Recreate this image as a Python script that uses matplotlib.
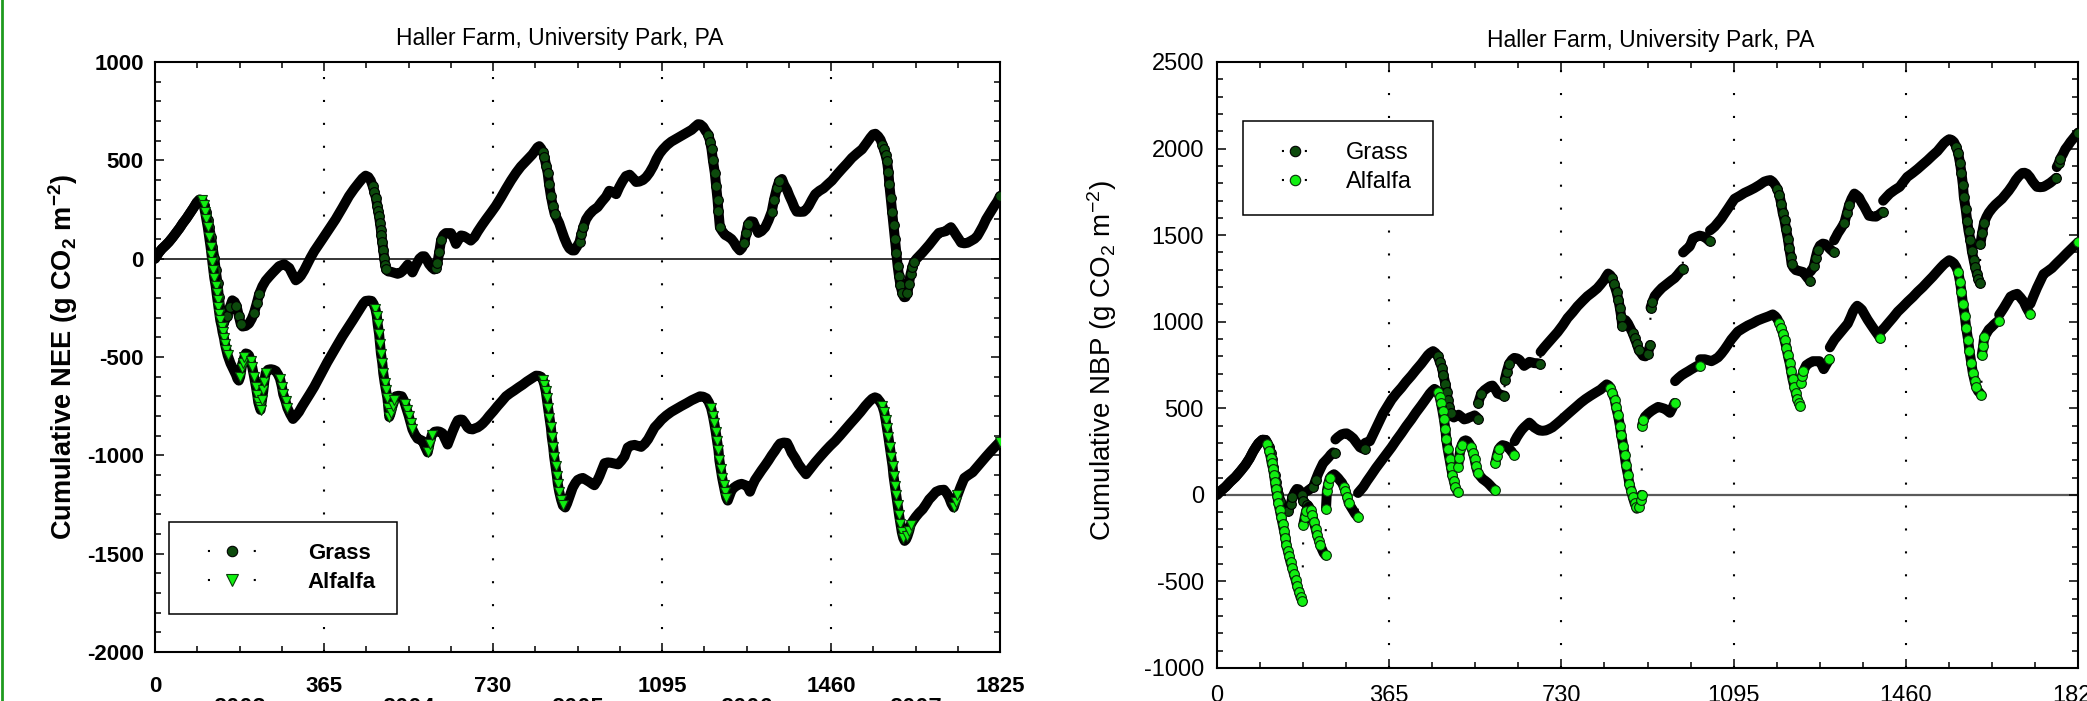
import numpy as np
import matplotlib
matplotlib.use("Agg")
import matplotlib.pyplot as plt
from matplotlib.lines import Line2D
from matplotlib.ticker import FixedLocator, MultipleLocator, FixedFormatter

plt.rcParams['font.family'] = ['Liberation Sans', 'DejaVu Sans']
plt.rcParams['mathtext.fontset'] = 'custom'
plt.rcParams['mathtext.rm'] = 'Liberation Sans'
plt.rcParams['mathtext.it'] = 'Liberation Sans:italic'
plt.rcParams['mathtext.bf'] = 'Liberation Sans:bold'
plt.rcParams['axes.unicode_minus'] = False

# ---------------- data ----------------
title = "Haller Farm, University Park, PA"
series_labels = ["Grass", "Alfalfa"]
x_ticks = [0, 365, 730, 1095, 1460, 1825]
x_ticklabels = ["0", "365", "730", "1095", "1460", "1825"]
years = ["2003", "2004", "2005", "2006", "2007"]
year_mid_days = [182.5, 547.5, 912.5, 1277.5, 1642.5]
nee_yticks = [-2000, -1500, -1000, -500, 0, 500, 1000]
nee_yticklabels = ["-2000", "-1500", "-1000", "-500", "0", "500", "1000"]
nbp_yticks = [-1000, -500, 0, 500, 1000, 1500, 2000, 2500]
nbp_yticklabels = ["-1000", "-500", "0", "500", "1000", "1500", "2000", "2500"]

# Cumulative NEE, grass (day, g CO2 m-2)
nee_grass = [(0,0),(8,30),(15,50),(23,68),(30,85),(38,108),(45,130),(53,155),(60,180),(68,205),(75,230),(83,258),(90,285),(96,300),(102,298),
 (106,272),(110,239),(114,195),(117,160),(121,110),(124,61),(128,5),(131,-57),(135,-125),(138,-196),(141,-260),(143,-300),(146,-325),(150,-320),
 (156,-290),(162,-245),(167,-212),(172,-220),(176,-240),(181,-290),(185,-330),(189,-345),(196,-342),(203,-330),(209,-305),(214,-275),(220,-225),
 (225,-180),(232,-140),(239,-112),(247,-90),(254,-72),(261,-55),(268,-38),(279,-28),(290,-47),(297,-80),(304,-110),(310,-100),(315,-87),(322,-60),
 (329,-28),(336,5),(344,38),(353,70),(362,101),(376,150),(390,200),(405,260),(419,318),(430,355),(441,388),(448,408),(455,422),(461,415),(466,397),
 (470,370),(474,338),(477,310),(480,270),(482,240),(484,215),(486,180),(488,145),(489,121),(491,85),(493,45),(495,5),(497,-30),(499,-55),(504,-65),
 (510,-67),(517,-72),(524,-77),(530,-72),(535,-62),(541,-45),(546,-30),(551,-50),(556,-70),(563,-35),(571,0),(577,12),(582,12),(587,-5),(592,-28),
 (598,-45),(603,-55),(607,-45),(610,-20),(614,35),(618,95),(623,120),(628,130),(639,130),(645,105),(650,75),(655,95),(661,118),(667,115),(672,108),
 (682,92),(690,110),(697,138),(706,170),(715,200),(726,235),(736,268),(747,310),(758,355),(769,398),(780,437),(790,468),(801,495),(808,512),(815,530),
 (821,550),(826,566),(830,572),(834,560),(838,540),(841,516),(845,470),(848,437),(851,380),(855,318),(859,270),(863,229),(868,205),(873,180),(878,145),
 (884,105),(890,72),(895,52),(901,42),(906,42),(911,60),(917,85),(921,125),(925,160),(931,200),(938,225),(946,245),(956,262),(965,290),(974,315),
 (981,345),(988,340),(996,328),(1003,365),(1010,395),(1017,420),(1025,427),(1032,410),(1039,390),(1046,392),(1054,400),(1061,415),(1068,437),
 (1076,470),(1083,506),(1090,535),(1097,556),(1106,578),(1115,595),(1126,610),(1137,625),(1148,640),(1159,655),(1166,670),(1173,684),(1178,682),
 (1184,670),(1189,650),(1195,630),(1199,595),(1202,556),(1205,500),(1209,437),(1212,370),(1215,299),(1217,240),(1220,160),(1225,140),(1231,121),
 (1238,112),(1245,100),(1250,85),(1256,61),(1263,42),(1268,55),(1273,81),(1277,130),(1281,175),(1286,190),(1292,188),(1297,160),(1303,131),(1310,140),
 (1318,160),(1325,195),(1332,239),(1337,300),(1343,358),(1348,395),(1354,405),(1359,375),(1365,350),(1370,320),(1376,289),(1381,260),(1386,239),
 (1394,238),(1401,239),(1407,252),(1412,269),(1419,300),(1426,328),(1435,345),(1444,358),(1453,378),(1462,397),(1473,428),(1484,457),(1495,485),
 (1505,512),(1516,535),(1527,556),(1536,585),(1545,615),(1551,632),(1556,635),(1562,622),(1567,605),(1571,580),(1574,556),(1578,525),(1581,496),
 (1584,440),(1586,378),(1589,310),(1592,239),(1595,170),(1598,101),(1601,30),(1604,-38),(1607,-90),(1610,-136),(1614,-175),(1618,-196),(1621,-195),
 (1625,-176),(1628,-130),(1632,-77),(1636,-40),(1639,-18),(1645,0),(1650,12),(1658,32),(1665,51),(1672,70),(1679,91),(1686,112),(1693,131),(1700,135),
 (1708,140),(1714,152),(1719,160),(1725,140),(1730,121),(1736,100),(1741,81),(1748,78),(1755,81),(1762,90),(1770,101),(1776,115),(1780,131),(1788,165),
 (1795,200),(1804,235),(1813,269),(1819,290),(1825,318)]

# Cumulative NEE, alfalfa
nee_alfalfa = [(0,0),(8,30),(15,50),(23,68),(30,85),(38,108),(45,130),(53,155),(60,180),(68,205),(75,230),(83,258),(90,285),(96,300),(102,298),
 (105,275),(108,239),(111,200),(114,160),(117,110),(120,61),(122,20),(124,-18),(126,-58),(128,-97),(131,-137),(133,-176),(135,-210),(137,-245),
 (139,-280),(141,-314),(144,-345),(146,-374),(149,-404),(151,-433),(154,-462),(157,-492),(160,-512),(163,-532),(167,-552),(171,-571),(175,-591),
 (178,-611),(181,-620),(184,-600),(187,-555),(189,-532),(193,-500),(196,-482),(200,-485),(203,-492),(207,-520),(210,-552),(214,-600),(218,-651),
 (221,-695),(223,-730),(226,-755),(228,-769),(231,-720),(234,-670),(236,-625),(239,-581),(244,-565),(250,-562),(256,-565),(261,-571),(266,-590),
 (270,-611),(274,-650),(277,-690),(282,-725),(286,-759),(292,-790),(298,-815),(304,-800),(311,-779),(318,-750),(326,-720),(335,-686),(344,-651),
 (353,-611),(362,-571),(372,-527),(383,-482),(394,-438),(405,-394),(416,-354),(427,-314),(436,-280),(445,-245),(450,-228),(455,-215),(462,-213),
 (468,-215),(472,-230),(476,-255),(479,-290),(481,-334),(484,-383),(486,-433),(488,-483),(491,-532),(493,-582),(496,-631),(499,-670),(502,-710),
 (504,-760),(506,-805),(509,-785),(513,-749),(517,-720),(520,-700),(526,-697),(533,-700),(537,-718),(540,-739),(544,-769),(548,-799),(552,-834),
 (556,-868),(561,-893),(567,-915),(572,-920),(578,-927),(583,-955),(589,-985),(593,-940),(598,-895),(604,-880),(610,-878),(615,-880),(621,-888),
 (626,-915),(632,-945),(637,-915),(643,-878),(649,-845),(654,-822),(659,-818),(664,-819),(670,-838),(675,-858),(680,-866),(686,-868),(692,-862),
 (697,-858),(703,-848),(708,-838),(715,-820),(722,-799),(731,-775),(740,-749),(749,-725),(758,-700),(767,-684),(776,-670),(785,-655),(794,-641),
 (803,-625),(812,-611),(818,-602),(823,-595),(829,-596),(834,-601),(838,-618),(841,-641),(844,-675),(846,-710),(849,-760),(852,-809),(855,-858),
 (857,-908),(860,-957),(862,-1006),(865,-1055),(868,-1105),(870,-1145),(873,-1185),(877,-1225),(881,-1255),(886,-1265),(890,-1245),(894,-1218),
 (898,-1190),(902,-1165),(908,-1140),(913,-1125),(919,-1118),(924,-1115),(931,-1125),(938,-1135),(944,-1145),(949,-1152),(955,-1130),(960,-1105),
 (966,-1070),(971,-1040),(978,-1036),(985,-1038),(992,-1042),(1000,-1046),(1007,-1028),(1014,-1006),(1021,-960),(1028,-950),(1036,-947),(1043,-952),
 (1050,-957),(1058,-940),(1065,-918),(1072,-888),(1079,-858),(1087,-838),(1094,-819),(1104,-798),(1115,-779),(1126,-764),(1137,-749),(1148,-735),
 (1159,-720),(1168,-710),(1177,-700),(1184,-702),(1191,-710),(1196,-730),(1201,-759),(1205,-800),(1208,-838),(1211,-880),(1214,-927),(1217,-975),
 (1219,-1026),(1222,-1070),(1225,-1115),(1228,-1150),(1231,-1185),(1234,-1215),(1237,-1230),(1241,-1205),(1245,-1180),(1250,-1165),(1256,-1155),
 (1262,-1148),(1267,-1145),(1273,-1150),(1278,-1155),(1282,-1170),(1285,-1185),(1290,-1155),(1296,-1125),(1303,-1100),(1310,-1076),(1318,-1050),
 (1325,-1026),(1332,-1000),(1339,-977),(1345,-955),(1350,-940),(1358,-935),(1365,-937),(1370,-960),(1375,-987),(1383,-1016),(1390,-1046),(1398,-1072),
 (1406,-1096),(1416,-1066),(1426,-1036),(1437,-1006),(1448,-977),(1458,-952),(1469,-927),(1480,-898),(1491,-868),(1502,-838),(1513,-809),(1524,-779),
 (1534,-749),(1542,-728),(1549,-712),(1555,-705),(1560,-710),(1566,-728),(1571,-749),(1575,-780),(1578,-819),(1581,-862),(1584,-908),(1587,-957),
 (1590,-1006),(1593,-1055),(1595,-1105),(1598,-1155),(1601,-1204),(1604,-1254),(1607,-1303),(1610,-1348),(1613,-1392),(1616,-1420),(1619,-1435),
 (1622,-1428),(1625,-1412),(1629,-1383),(1632,-1353),(1637,-1333),(1643,-1313),(1650,-1293),(1658,-1274),(1665,-1250),(1672,-1224),(1680,-1204),
 (1687,-1185),(1695,-1177),(1704,-1175),(1710,-1193),(1715,-1214),(1720,-1245),(1725,-1265),(1729,-1235),(1733,-1204),(1740,-1160),(1748,-1115),
 (1757,-1100),(1766,-1086),(1775,-1061),(1784,-1036),(1795,-1006),(1806,-977),(1816,-952),(1825,-930)]

# Cumulative NBP, grass: one list per continuous run (jumps at harvest / manure events)
nbp_grass = [
 [(0,0),(9,25),(18,46),(28,75),(39,103),(50,138),(60,172),(69,210),(77,252),(83,278),(88,298),(96,318),(103,317),(107,300),(111,275),(114,240),
  (116,206),(119,160),(122,115),(125,75),(127,34),(130,5),(134,-34),(138,-60),(143,-80),(147,-88),(151,-92),(156,-55),(160,-11),(165,18),(169,34),
  (173,32),(176,23),(180,0),(183,-34),(187,-48),(190,-57)],
 [(192,23),(198,35),(204,46),(209,85),(215,126),(220,155),(225,183),(231,200),(237,218),(241,232),(246,245),(250,241)],
 [(251,320),(256,333),(264,349),(270,354),(275,355),(282,342),(289,326),(296,300),(303,275),(308,268),(313,264)],
 [(314,300),(319,305),(324,310),(331,350),(338,390),(345,430),(352,470),(361,510),(370,550),(380,585),(391,619),(401,654),(412,688),(422,722),
  (433,757),(440,782),(447,807),(452,820),(458,830),(463,820),(468,803),(472,770),(477,734),(480,690),(484,642),(487,595),(489,550),(492,510),
  (495,470),(498,455),(502,447),(507,455),(512,463),(518,450),(524,436),(530,440),(535,447),(541,453),(546,459),(550,450),(553,440)],
 [(554,532),(560,585),(567,605),(574,619),(579,628),(584,631),(590,610),(595,585),(602,578),(609,573)],
 [(610,665),(614,710),(619,757),(625,780),(630,791),(636,788),(641,780),(646,762),(651,745),(657,756),(662,768),(667,765),(672,761),(679,760),(685,757)],
 [(686,826),(693,850),(700,872),(711,906),(722,940),(733,980),(743,1021),(754,1055),(764,1089),(775,1120),(785,1147),(796,1170),(806,1193),
  (813,1215),(820,1239),(825,1262),(829,1278),(834,1268),(838,1250),(842,1215),(847,1170),(851,1125),(854,1078),(857,1025),(859,975),(862,990),
  (866,1009),(871,990),(876,963),(881,935),(885,906),(890,870),(894,837),(899,818),(903,803),(908,800),(913,815),(918,865)],
 [(919,1081),(923,1115),(928,1149),(935,1172),(943,1195),(950,1210),(956,1223),(963,1238),(970,1252),(976,1270),(981,1287),(987,1305)],
 [(988,1400),(995,1418),(1002,1435),(1006,1460),(1009,1481),(1016,1490),(1023,1497),(1029,1493),(1034,1488),(1039,1477),(1044,1465)],
 [(1045,1527),(1050,1538),(1055,1550),(1062,1573),(1069,1596),(1076,1625),(1083,1653),(1090,1682),(1097,1710),(1108,1727),(1118,1744),(1129,1758),
  (1139,1772),(1150,1790),(1160,1809),(1167,1815),(1173,1818),(1178,1808),(1183,1790),(1188,1765),(1192,1733),(1196,1680),(1199,1630),(1203,1585),
  (1206,1538),(1210,1480),(1213,1424),(1216,1375),(1218,1332),(1222,1312),(1227,1298),(1235,1292),(1242,1287),(1247,1270),(1252,1252),(1257,1236)],
 [(1258,1290),(1262,1305),(1265,1320),(1269,1370),(1273,1413),(1278,1440),(1284,1451),(1289,1448),(1294,1435),(1300,1418),(1307,1401)],
 [(1308,1470),(1312,1490),(1316,1511),(1323,1540),(1330,1573),(1335,1625),(1340,1676),(1345,1710),(1351,1740),(1356,1730),(1361,1717),(1366,1690),
  (1372,1664),(1377,1638),(1382,1612),(1390,1608),(1397,1607),(1404,1620),(1411,1635)],
 [(1412,1699),(1419,1720),(1426,1740),(1436,1760),(1447,1779),(1455,1808),(1463,1836),(1474,1858),(1485,1882),(1495,1906),(1506,1932),(1516,1958),
  (1527,1985),(1534,2008),(1541,2031),(1547,2045),(1552,2054),(1557,2050),(1562,2038),(1567,2010),(1571,1973),(1575,1915),(1578,1859),(1581,1790),
  (1583,1722),(1587,1650),(1590,1584),(1593,1525),(1597,1470),(1600,1410),(1604,1355),(1607,1315),(1611,1275),(1614,1245),(1617,1223)],
 [(1618,1447),(1622,1515),(1626,1573),(1631,1605),(1636,1630),(1643,1655),(1650,1676),(1657,1693),(1664,1710),(1671,1733),(1678,1756),(1686,1787),
  (1693,1818),(1700,1842),(1707,1859),(1712,1860),(1717,1854),(1723,1835),(1728,1813),(1733,1795),(1738,1779),(1745,1777),(1752,1779),(1759,1790),
  (1766,1802),(1772,1815),(1779,1831)],
 [(1780,1893),(1784,1915),(1787,1939),(1793,1968),(1798,1996),(1804,2018),(1809,2038),(1817,2065),(1825,2092)],
]

# Cumulative NBP, alfalfa
nbp_alfalfa = [
 [(0,0),(9,25),(18,46),(28,75),(39,103),(50,138),(60,172),(69,210),(77,252),(83,278),(88,298),(96,318),(103,317),(107,295),(111,252),(114,215),
  (116,183),(119,150),(121,115),(123,75),(125,34),(128,-5),(130,-46),(133,-86),(136,-126),(139,-166),(142,-206),(145,-247),(147,-287),(150,-322),
  (153,-356),(156,-390),(160,-424),(163,-458),(167,-493),(170,-527),(174,-562),(177,-590),(181,-615)],
 [(183,-172),(186,-130),(189,-92),(192,-78),(195,-69),(199,-90),(202,-115),(205,-155),(209,-195),(212,-230),(216,-264),(219,-292),(223,-317),
  (226,-335),(230,-349)],
 [(231,-80),(233,23),(236,65),(239,96),(243,110),(248,119),(252,110),(257,96),(261,82),(265,69),(269,45),(272,23),(276,-10),(279,-46),(284,-70),
  (289,-92),(293,-110),(298,-126)],
 [(299,11),(305,30),(310,46),(318,80),(327,115),(337,155),(348,195),(359,235),(370,275),(380,315),(391,356),(401,396),(412,436),(422,476),(433,516),
  (442,550),(451,585),(456,600),(461,612),(465,605),(468,596),(472,565),(475,528),(478,485),(481,436),(484,380),(486,321),(489,265),(493,206),
  (496,160),(499,115),(502,80),(505,46),(510,16)],
 [(511,161),(513,210),(516,264),(519,290),(523,310),(527,315),(531,310),(535,295),(539,275),(543,240),(546,206),(549,165),(553,126),(558,108),
  (563,92),(569,80),(574,69),(578,58),(582,46),(589,28)],
 [(590,183),(593,225),(597,264),(601,278),(605,287),(611,283),(617,275),(623,255),(630,229)],
 [(631,310),(636,335),(641,356),(646,375),(651,390),(657,405),(662,417),(667,405),(672,390),(678,380),(683,372),(690,370),(697,372),(704,380),
  (711,390),(720,410),(729,431),(740,458),(750,482),(761,508),(771,532),(781,553),(792,573),(802,590),(813,608),(820,625),(826,638),(830,632),
  (834,619),(838,590),(843,550),(846,505),(850,459),(854,400),(857,344),(861,285),(864,229),(867,170),(871,115),(874,65),(878,23),(881,-10),
  (885,-46),(888,-68),(890,-80),(894,-70),(898,-30),(900,0)],
 [(901,400),(904,430),(907,451),(914,470),(921,485),(928,497),(935,508),(942,503),(949,497),(955,485),(960,474),(965,500),(970,531)],
 [(971,657),(978,675),(985,691),(992,703),(999,714),(1006,726),(1013,737),(1018,745),(1023,742)],
 [(1024,783),(1029,783),(1034,783),(1041,778),(1048,772),(1055,782),(1062,794),(1069,815),(1076,840),(1083,868),(1090,897),(1097,920),(1104,943),
  (1115,962),(1125,978),(1136,992),(1146,1007),(1157,1019),(1168,1030),(1173,1036),(1178,1042),(1183,1032),(1187,1019),(1192,992),(1196,962),
  (1200,930),(1203,893),(1207,850),(1210,806),(1214,760),(1217,714),(1220,668),(1224,623),(1227,588),(1230,554),(1233,530),(1236,513)],
 [(1237,646),(1240,685),(1243,714),(1246,732),(1249,749),(1256,762),(1263,772),(1270,772),(1277,772),(1282,750),(1286,726),(1292,755),(1298,783)],
 [(1299,852),(1304,875),(1309,897),(1316,920),(1323,943),(1330,966),(1337,989),(1343,1025),(1348,1058),(1353,1080),(1357,1092),(1362,1082),
  (1367,1069),(1373,1040),(1379,1012),(1386,983),(1393,955),(1400,928),(1406,904)],
 [(1407,943),(1415,966),(1422,989),(1433,1024),(1443,1058),(1454,1087),(1464,1115),(1475,1143),(1485,1172),(1496,1200),(1506,1229),(1517,1260),
  (1527,1291),(1534,1312),(1541,1332),(1547,1345),(1552,1355),(1557,1348),(1562,1337),(1567,1315),(1571,1287),(1575,1230),(1578,1172),(1581,1105),
  (1585,1035),(1588,965),(1592,897),(1595,828),(1599,760),(1602,705),(1606,657),(1609,625),(1613,600),(1617,588),(1620,577)],
 [(1621,806),(1624,860),(1626,909),(1631,932),(1636,955),(1642,970),(1647,984),(1652,996),(1657,1007)],
 [(1658,1040),(1663,1060),(1668,1081),(1675,1113),(1682,1145),(1689,1155),(1696,1161),(1703,1140),(1710,1115),(1716,1080),(1723,1046)],
 [(1724,1103),(1731,1150),(1738,1195),(1745,1235),(1752,1275),(1761,1292),(1770,1310),(1780,1338),(1791,1367),(1801,1395),(1812,1424),
  (1818,1440),(1825,1458)],
]

# ---------------- style ----------------
DPI = 100
GRASS_FACE = '#0c4a0c'
ALF_FACE = '#10f010'
ALF_TRI_EDGE = '#0a3a0a'
BAND_LW = 7.2       # pt, visual width of the dense daily-marker band
STEEP = 7.0         # units/day: where individual markers become visible
dot_style = (0, (1, 10))

fig = plt.figure(figsize=(2087 / DPI, 701 / DPI), dpi=DPI)
W, H = 2087.0, 701.0
ax1 = fig.add_axes([155 / W, (H - 652) / H, 845 / W, 590 / H])
ax2 = fig.add_axes([1217 / W, (H - 668) / H, 861 / W, 606 / H])


def draw_series(ax, segments, face, edge, marker, ms, z):
    segs = [np.array(s, dtype=float) for s in segments]
    alld = np.concatenate([s[:, 0] for s in segs])
    allv = np.concatenate([s[:, 1] for s in segs])
    ax.plot(alld, allv, ls=dot_style, lw=1.5, color='black', zorder=z)
    for s in segs:
        d, v = s[:, 0], s[:, 1]
        ax.plot(d, v, color='black', lw=BAND_LW, solid_capstyle='round',
                solid_joinstyle='round', zorder=z + 0.1)
        show = np.zeros(len(d), bool)
        if len(d) > 1:
            slope = np.abs(np.diff(v) / np.diff(d))
            show[:-1] |= slope > STEEP
            show[1:] |= slope > STEEP
        show[-1] = True
        ax.plot(d[show], v[show], ls='none', marker=marker, mfc=face, mec=edge,
                ms=ms, mew=0.8, zorder=z + 0.2)


def style_axes(ax, yticks, yticklabels, ylim, bold, fs, xpad, ypad):
    ax.set_xlim(0, 1825)
    ax.set_ylim(*ylim)
    ax.xaxis.set_major_locator(FixedLocator(x_ticks))
    ax.xaxis.set_major_formatter(FixedFormatter(x_ticklabels))
    ax.xaxis.set_minor_locator(MultipleLocator(91.25))
    ax.yaxis.set_major_locator(FixedLocator(yticks))
    ax.yaxis.set_major_formatter(FixedFormatter(yticklabels))
    ax.yaxis.set_minor_locator(MultipleLocator(100))
    ax.tick_params(which='both', direction='in', top=True, right=True, width=1.1, colors='black')
    ax.tick_params(which='major', length=6.8)
    ax.tick_params(which='minor', length=4.0)
    ax.tick_params(axis='x', which='major', pad=xpad, labelsize=fs)
    ax.tick_params(axis='y', which='major', pad=ypad, labelsize=fs)
    for lab in ax.get_xticklabels() + ax.get_yticklabels():
        lab.set_fontweight('bold' if bold else 'normal')
    for sp in ax.spines.values():
        sp.set_linewidth(1.5)
    for g in x_ticks[1:-1]:
        ax.axvline(g, color='black', ls=dot_style, lw=1.5, zorder=1)


# ---------- left panel: NEE ----------
style_axes(ax1, nee_yticks, nee_yticklabels, (-2000, 1000), True, 16, 17, 8)
ax1.axhline(0, color='black', lw=1.1, zorder=1.5)
draw_series(ax1, [nee_grass], GRASS_FACE, 'black', 'o', 7.0, 3)
draw_series(ax1, [nee_alfalfa], ALF_FACE, ALF_TRI_EDGE, 'v', 7.8, 5)
for yr, dm in zip(years, year_mid_days):
    ax1.text(dm, -0.076, yr, transform=ax1.get_xaxis_transform(), ha='center', va='top',
             fontsize=17, fontweight='bold', clip_on=False)

h1 = [Line2D([], [], color='black', ls=(2.4, (1, 10)), lw=1.5, marker='o', ms=7.5,
             mfc=GRASS_FACE, mec='black', mew=0.8),
      Line2D([], [], color='black', ls=(2.4, (1, 10)), lw=1.5, marker='v', ms=8,
             mfc=ALF_FACE, mec=ALF_TRI_EDGE, mew=0.8)]
leg1 = ax1.legend(h1, series_labels, loc='upper left', bbox_to_anchor=(169 / W, 1 - 522 / H),
                  bbox_transform=fig.transFigure, borderaxespad=0,
                  prop={'weight': 'bold', 'size': 16}, handlelength=3.8, handletextpad=1.5,
                  borderpad=0.95, labelspacing=0.35, fancybox=False, framealpha=1,
                  edgecolor='black', numpoints=1)
leg1.get_frame().set_linewidth(1.1)
leg1.set_zorder(10)

# ---------- right panel: NBP ----------
style_axes(ax2, nbp_yticks, nbp_yticklabels, (-1000, 2500), False, 17, 12, 9.4)
ax2.axhline(0, color='#5a5a5a', lw=1.6, zorder=1.5)
draw_series(ax2, nbp_grass, GRASS_FACE, 'black', 'o', 7.0, 3)
draw_series(ax2, nbp_alfalfa, ALF_FACE, '#0a2a0a', 'o', 7.0, 5)

h2 = [Line2D([], [], color='black', ls=(2.4, (1, 10)), lw=1.5, marker='o', ms=7.5,
             mfc=GRASS_FACE, mec='black', mew=0.8),
      Line2D([], [], color='black', ls=(2.4, (1, 10)), lw=1.5, marker='o', ms=7.5,
             mfc=ALF_FACE, mec='#0a2a0a', mew=0.8)]
leg2 = ax2.legend(h2, series_labels, loc='upper left', bbox_to_anchor=(1243 / W, 1 - 121 / H),
                  bbox_transform=fig.transFigure, borderaxespad=0,
                  prop={'size': 17}, handlelength=2.6, handletextpad=0.85,
                  borderpad=0.9, labelspacing=0.3, fancybox=False, framealpha=1,
                  edgecolor='black', numpoints=1)
leg2.get_frame().set_linewidth(1.1)
leg2.set_zorder(10)

# ---------- titles & axis labels ----------
fig.text(560 / W, 1 - 38 / H, title, ha='center', va='center', fontsize=16.5)
fig.text(1651 / W, 1 - 40 / H, title, ha='center', va='center', fontsize=16.5)
fig.text(63 / W, 1 - 357 / H, r'Cumulative NEE (g CO$_\mathbf{2}$ m$^\mathbf{-2}$)',
         rotation=90, ha='center', va='center', fontsize=19.5, fontweight='bold')
fig.text(1102 / W, 1 - 361 / H, r'Cumulative NBP (g CO$_\mathrm{2}$ m$^\mathrm{-2}$)',
         rotation=90, ha='center', va='center', fontsize=20)

# green left edge of the source frame
fig.add_artist(Line2D([2 / W, 2 / W], [0, 1], transform=fig.transFigure, color='#1f9a1f', lw=2))

fig.savefig('out.png', dpi=DPI)
